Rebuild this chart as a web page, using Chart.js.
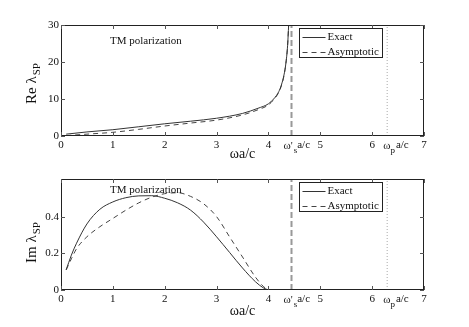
<!DOCTYPE html>
<html lang="en">
<head>
  <meta charset="UTF-8">
  <title>TM polarization — Re and Im of lambda_SP</title>
  <script src="https://cdn.jsdelivr.net/npm/chart.js"></script>
  <style>
    body {
      margin: 0;
      background: #fff;
    }
    .wrap {
      position: relative;
      width: 469px;
      height: 327px;
    }
    .panel {
      position: absolute;
      left: 0;
      width: 469px;
    }
  </style>
</head>
<body>
<div class="wrap">
  <div class="panel" style="top:0;height:163px"><canvas id="reChart" width="469" height="163"></canvas></div>
  <div class="panel" style="top:163px;height:164px"><canvas id="imChart" width="469" height="164"></canvas></div>
</div>

<script>
// x positions (omega a/c) where the curves were sampled
const reX = [0.1, 0.5, 1, 1.5, 2, 2.5, 3, 3.5, 3.8, 4, 4.1, 4.2, 4.25, 4.3, 4.34, 4.37, 4.39];
const reExact = [0.5, 1.1, 1.7, 2.5, 3.3, 4.0, 4.8, 6.1, 7.5, 8.7, 10.0, 12.0, 13.8, 16.5, 20, 24.5, 30];
const reAsym  = [0.1, 0.5, 1.0, 1.8, 2.7, 3.5, 4.3, 5.7, 7.1, 8.4, 9.8, 11.8, 13.6, 16.3, 20, 24.5, 30];

const imX = [0.1, 0.2, 0.3, 0.5, 0.75, 1, 1.25, 1.5, 1.75, 2, 2.25, 2.5, 2.75, 3, 3.25, 3.5, 3.75, 3.9, 4.0];
const imExact = [0.11, 0.19, 0.255, 0.36, 0.44, 0.48, 0.503, 0.513, 0.514, 0.50, 0.475, 0.435, 0.37, 0.29, 0.205, 0.12, 0.045, 0.012, 0];
const imAsym  = [0.11, 0.17, 0.225, 0.29, 0.345, 0.39, 0.435, 0.475, 0.506, 0.525, 0.53, 0.51, 0.47, 0.40, 0.29, 0.18, 0.07, 0.02, 0];

const xTicks = [0, 1, 2, 3, 4, 5, 6, 7];
const reTicks = [0, 10, 20, 30];
const imTicks = [0, 0.2, 0.4];
const wsX = 4.445;   // omega'_s a/c
const wpX = 6.29;    // omega_p a/c

const serif = "'Liberation Serif', 'DejaVu Serif', serif";

function pts(xs, ys) {
  return xs.map((x, i) => ({ x: x, y: ys[i] }));
}

// frame, inward ticks, labels with subscripts, legend box
const decor = {
  id: 'decor',
  afterDraw(chart, args, o) {
    const ctx = chart.ctx;
    const a = chart.chartArea;
    const xs = chart.scales.x, ys = chart.scales.y;
    ctx.save();
    ctx.strokeStyle = '#222';
    ctx.lineWidth = 1;
    ctx.strokeRect(a.left + 0.5, a.top + 0.5, a.right - a.left - 1, a.bottom - a.top - 1);

    ctx.strokeStyle = '#555';
    ctx.beginPath();
    xTicks.forEach(v => {
      const px = Math.round(xs.getPixelForValue(v)) + 0.5;
      ctx.moveTo(px, a.bottom); ctx.lineTo(px, a.bottom - 4);
      ctx.moveTo(px, a.top); ctx.lineTo(px, a.top + 4);
    });
    o.yTicks.forEach(v => {
      const py = Math.round(ys.getPixelForValue(v)) + 0.5;
      ctx.moveTo(a.left, py); ctx.lineTo(a.left + 4, py);
      ctx.moveTo(a.right, py); ctx.lineTo(a.right - 4, py);
    });
    ctx.stroke();

    ctx.fillStyle = '#111';
    ctx.textBaseline = 'alphabetic';

    // special x labels
    const ly = a.bottom + 13;
    let px = xs.getPixelForValue(wsX) - 8;
    ctx.font = '11px ' + serif;
    ctx.fillText("ω'", px, ly);
    px += ctx.measureText("ω'").width + 1;
    ctx.font = '9px ' + serif;
    ctx.fillText('s', px, ly + 4);
    px += ctx.measureText('s').width;
    ctx.font = '11px ' + serif;
    ctx.fillText('a/c', px, ly - 1);

    px = xs.getPixelForValue(wpX) - 4;
    ctx.fillText('ω', px, ly);
    px += ctx.measureText('ω').width;
    ctx.font = '9px ' + serif;
    ctx.fillText('p', px, ly + 4);
    px += ctx.measureText('p').width + 1;
    ctx.font = '11px ' + serif;
    ctx.fillText('a/c', px, ly - 1);

    // y title with subscript
    ctx.save();
    ctx.translate(36, o.titleY);
    ctx.rotate(-Math.PI / 2);
    ctx.font = '15px ' + serif;
    const main = o.titleText + ' λ';
    const w1 = ctx.measureText(main).width;
    ctx.font = '11px ' + serif;
    const w2 = ctx.measureText('SP').width;
    let tx = -(w1 + w2) / 2;
    ctx.font = '15px ' + serif;
    ctx.fillText(main, tx, 0);
    ctx.font = '11px ' + serif;
    ctx.fillText('SP', tx + w1 + 1, 4);
    ctx.restore();

    // annotation
    ctx.font = '11px ' + serif;
    ctx.fillText('TM polarization', o.noteX, o.noteY);

    // legend
    const bx = 299.5, by = a.top + 3.5, bw = 83, bh = 29;
    ctx.fillStyle = '#fff';
    ctx.fillRect(bx, by, bw, bh);
    ctx.strokeStyle = '#222';
    ctx.strokeRect(bx, by, bw, bh);
    chart.data.datasets.slice(0, 2).forEach((d, i) => {
      const yy = Math.round(by + 8 + i * 15) + 0.5;
      ctx.strokeStyle = d.borderColor;
      ctx.lineWidth = 1;
      ctx.setLineDash(d.borderDash || []);
      ctx.beginPath();
      ctx.moveTo(bx + 3, yy); ctx.lineTo(bx + 26, yy);
      ctx.stroke();
      ctx.setLineDash([]);
      ctx.fillStyle = '#111';
      ctx.font = '11px ' + serif;
      ctx.textBaseline = 'middle';
      ctx.fillText(d.label, bx + 28, yy);
    });
    ctx.restore();
  }
};

function makeChart(id, exact, asym, xsArr, yMax, yTickList, opts) {
  return new Chart(document.getElementById(id), {
    type: 'line',
    data: {
      datasets: [
        { label: 'Exact', data: pts(xsArr, exact), borderColor: '#333', borderWidth: 1, pointRadius: 0,
          cubicInterpolationMode: 'monotone' },
        { label: 'Asymptotic', data: pts(xsArr, asym), borderColor: '#444', borderWidth: 1, borderDash: [5, 4],
          pointRadius: 0, cubicInterpolationMode: 'monotone' },
        { label: 'ws', data: [{ x: wsX, y: 0 }, { x: wsX, y: yMax }], borderColor: '#999', borderWidth: 2,
          borderDash: [6, 3], pointRadius: 0 },
        { label: 'wp', data: [{ x: wpX, y: 0 }, { x: wpX, y: yMax }], borderColor: '#aaa', borderWidth: 1,
          borderDash: [1, 2], pointRadius: 0 }
      ]
    },
    options: {
      responsive: false,
      animation: false,
      layout: { padding: { top: opts.top, left: 39, right: 45, bottom: opts.bottom } },
      plugins: {
        legend: { display: false },
        tooltip: { enabled: false },
        decor: { yTicks: yTickList, titleText: opts.title, titleY: opts.titleY, noteX: 110, noteY: opts.noteY }
      },
      scales: {
        x: {
          type: 'linear', min: 0, max: 7,
          afterBuildTicks: s => { s.ticks = xTicks.map(v => ({ value: v })); },
          afterFit: s => { s.height = opts.xh; },
          grid: { display: false, drawTicks: false },
          border: { display: false },
          ticks: { color: '#111', font: { family: serif, size: 11 }, padding: 3, maxRotation: 0 },
          title: { display: true, text: 'ωa/c', color: '#111', font: { family: serif, size: 14 }, padding: 0 }
        },
        y: {
          type: 'linear', min: 0, max: yMax,
          afterBuildTicks: s => { s.ticks = yTickList.map(v => ({ value: v })); },
          afterFit: s => { s.width = 22; },
          grid: { display: false, drawTicks: false },
          border: { display: false },
          ticks: { color: '#111', font: { family: serif, size: 11 }, padding: 2 }
        }
      }
    },
    plugins: [decor]
  });
}

makeChart('reChart', reExact, reAsym, reX, 30, reTicks,
  { top: 25, bottom: 0, xh: 27, title: 'Re', titleY: 84, noteY: 44 });
makeChart('imChart', imExact, imAsym, imX, 0.605, imTicks,
  { top: 16, bottom: 7, xh: 30, title: 'Im', titleY: 80, noteY: 30 });
</script>
</body>
</html>
